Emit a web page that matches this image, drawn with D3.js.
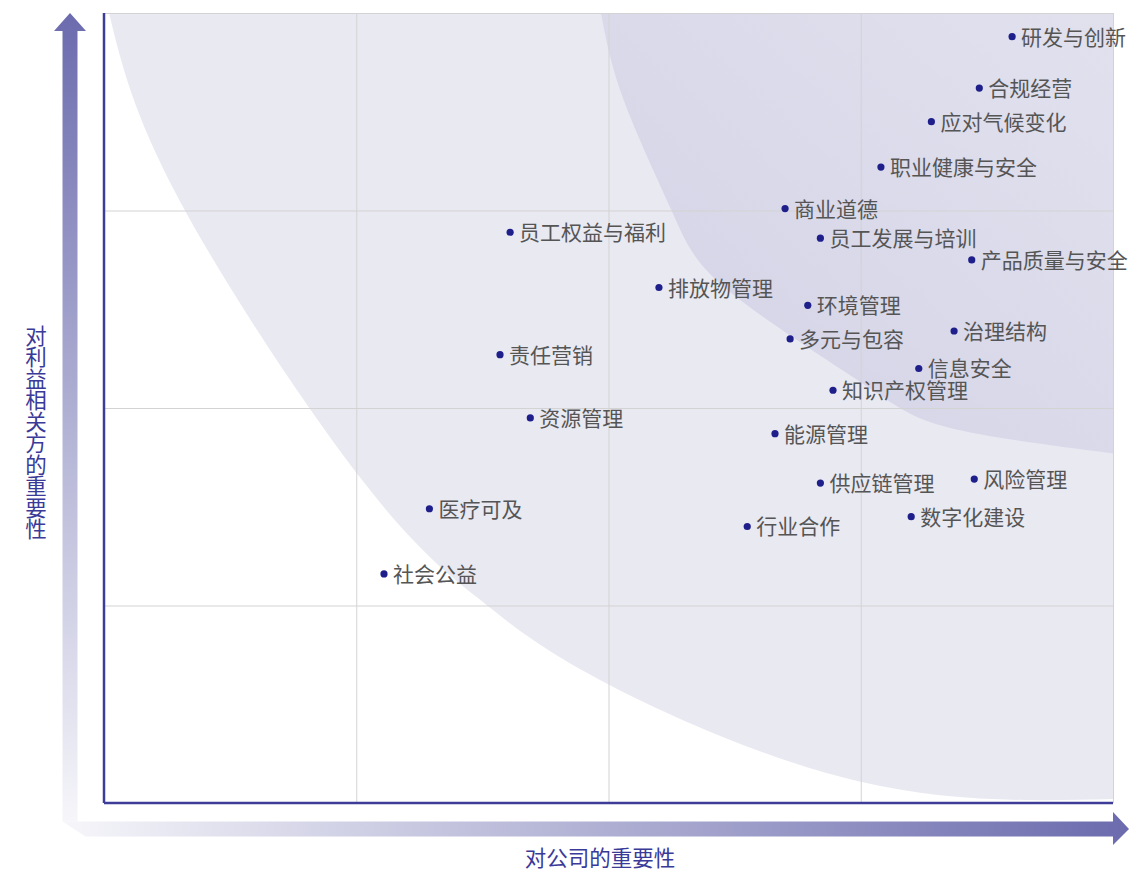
<!DOCTYPE html>
<html>
<head>
<meta charset="utf-8">
<script src="https://d3js.org/d3.v7.min.js"></script>
<style>
  body { margin: 0; background: #fff; }
  svg text { font-family: "Noto Sans CJK SC", "Noto Sans", sans-serif; }
</style>
</head>
<body>
<svg id="chart"></svg>
<script>

// materiality topics (x = importance to company, y = importance to stakeholders)
var topics = ["研发与创新", "合规经营", "应对气候变化", "职业健康与安全", "商业道德",
  "员工权益与福利", "员工发展与培训", "产品质量与安全", "排放物管理", "环境管理",
  "多元与包容", "治理结构", "责任营销", "信息安全", "知识产权管理", "资源管理",
  "能源管理", "风险管理", "供应链管理", "医疗可及", "数字化建设", "行业合作", "社会公益"];
var companyScore = [3.60, 3.47, 3.28, 3.08, 2.70, 1.61, 2.84, 3.44, 2.20, 2.79,
  2.72, 3.37, 1.57, 3.23, 2.89, 1.69, 2.66, 3.45, 2.84, 1.29, 3.20, 2.55, 1.11];
var stakeholderScore = [3.88, 3.62, 3.45, 3.22, 3.01, 2.89, 2.86, 2.75, 2.61, 2.52,
  2.35, 2.39, 2.27, 2.20, 2.09, 1.95, 1.87, 1.64, 1.62, 1.49, 1.45, 1.40, 1.16];

var gridTicks = [0, 1, 2, 3, 4];

// zone boundaries (same units as the scores)
var outerZone = [[0.02, 4], [0.30, 3.05], [1.02, 1.64], [1.49, 1.03], [1.97, 0.62], [2.99, 0.11], [4, 0.02]];
var innerZone = [[1.97, 4], [2.06, 3.56], [2.25, 3.0], [2.47, 2.6], [3.0, 2.13], [3.35, 1.9], [4, 1.77]];

var width = 1129, height = 874;
var margin = {top: 13, right: 16, bottom: 71, left: 104};
var w = width - margin.left - margin.right;
var h = height - margin.top - margin.bottom;

var svg = d3.select("#chart").attr("width", width).attr("height", height);

var defs = svg.append("defs");
var gInner = defs.append("linearGradient").attr("id", "innerGrad")
  .attr("x1", "0%").attr("y1", "100%").attr("x2", "100%").attr("y2", "0%");
gInner.append("stop").attr("offset", "0%").attr("stop-color", "#d2d2e6");
gInner.append("stop").attr("offset", "100%").attr("stop-color", "#e1e1ee");

var gUp = defs.append("linearGradient").attr("id", "upGrad")
  .attr("x1", "0").attr("y1", "1").attr("x2", "0").attr("y2", "0");
gUp.append("stop").attr("offset", "0%").attr("stop-color", "#f6f6fa");
gUp.append("stop").attr("offset", "100%").attr("stop-color", "#6b6bae");

var gRight = defs.append("linearGradient").attr("id", "rightGrad")
  .attr("x1", "0").attr("y1", "0").attr("x2", "1").attr("y2", "0");
gRight.append("stop").attr("offset", "0%").attr("stop-color", "#f6f6fa");
gRight.append("stop").attr("offset", "100%").attr("stop-color", "#6b6bae");

var x = d3.scaleLinear().domain([0, 4]).range([0, w]);
var y = d3.scaleLinear().domain([0, 4]).range([h, 0]);

var g = svg.append("g").attr("transform", "translate(" + margin.left + "," + margin.top + ")");

// shaded zones
var zoneLine = d3.line().x(function (d) { return x(d[0]); }).y(function (d) { return y(d[1]); })
  .curve(d3.curveNatural);

g.append("path")
  .attr("d", zoneLine(outerZone) + "L" + x(4) + "," + y(4) + "Z")
  .attr("fill", "#e9e9f2");

g.append("path")
  .attr("d", zoneLine(innerZone) + "L" + x(4) + "," + y(4) + "Z")
  .attr("fill", "url(#innerGrad)");

// grid
g.append("g")
  .attr("transform", "translate(0," + h + ")")
  .call(d3.axisBottom(x).tickValues(gridTicks).tickSize(-h).tickFormat(""))
  .call(function (s) { s.select(".domain").remove(); })
  .selectAll("line").attr("stroke", "#d3d3d3").attr("stroke-width", 1);

g.append("g")
  .call(d3.axisLeft(y).tickValues(gridTicks).tickSize(-w).tickFormat(""))
  .call(function (s) { s.select(".domain").remove(); })
  .selectAll("line").attr("stroke", "#d3d3d3").attr("stroke-width", 1);

// axis lines
g.append("line").attr("x1", 0).attr("x2", 0).attr("y1", 0).attr("y2", h)
  .attr("stroke", "#3d3d99").attr("stroke-width", 2.5);
g.append("line").attr("x1", 0).attr("x2", w).attr("y1", h).attr("y2", h)
  .attr("stroke", "#3d3d99").attr("stroke-width", 2.5);

// big arrows outside the plot
var ax = margin.left - 34, ay = margin.top + h + 26, half = 7.5;
svg.append("path")
  .attr("d", "M" + (ax - half) + "," + (ay - half) +
    "L" + (ax - half) + "," + (margin.top + 18) +
    "L" + (ax - 16) + "," + (margin.top + 18) +
    "L" + ax + "," + margin.top +
    "L" + (ax + 16) + "," + (margin.top + 18) +
    "L" + (ax + half) + "," + (margin.top + 18) +
    "L" + (ax + half) + "," + (ay - half) + "Z")
  .attr("fill", "url(#upGrad)");

svg.append("path")
  .attr("d", "M" + (ax - half) + "," + (ay - half) +
    "L" + (margin.left + w) + "," + (ay - half) +
    "L" + (margin.left + w) + "," + (ay - 17) +
    "L" + width + "," + ay +
    "L" + (margin.left + w) + "," + (ay + 16) +
    "L" + (margin.left + w) + "," + (ay + half) +
    "L" + (ax + half + 8) + "," + (ay + half) + "Z")
  .attr("fill", "url(#rightGrad)");

// axis titles
svg.append("text")
  .attr("x", 36)
  .attr("y", 325)
  .style("writing-mode", "vertical-rl")
  .style("text-orientation", "upright")
  .attr("font-size", 21.5)
  .attr("fill", "#3a3a98")
  .text("对利益相关方的重要性");

svg.append("text")
  .attr("x", 600)
  .attr("y", 866)
  .attr("text-anchor", "middle")
  .attr("font-size", 21.5)
  .attr("fill", "#3a3a98")
  .text("对公司的重要性");

// points
var pts = g.selectAll(".pt")
  .data(topics).enter().append("g").attr("class", "pt")
  .attr("transform", function (d, i) {
    return "translate(" + x(companyScore[i]) + "," + y(stakeholderScore[i]) + ")";
  });

pts.append("circle").attr("r", 3.6).attr("fill", "#1f1f8c");

pts.append("text")
  .attr("x", 9)
  .attr("dy", "0.38em")
  .attr("font-size", 21)
  .attr("fill", "#555555")
  .text(function (d) { return d; });

</script>
</body>
</html>
